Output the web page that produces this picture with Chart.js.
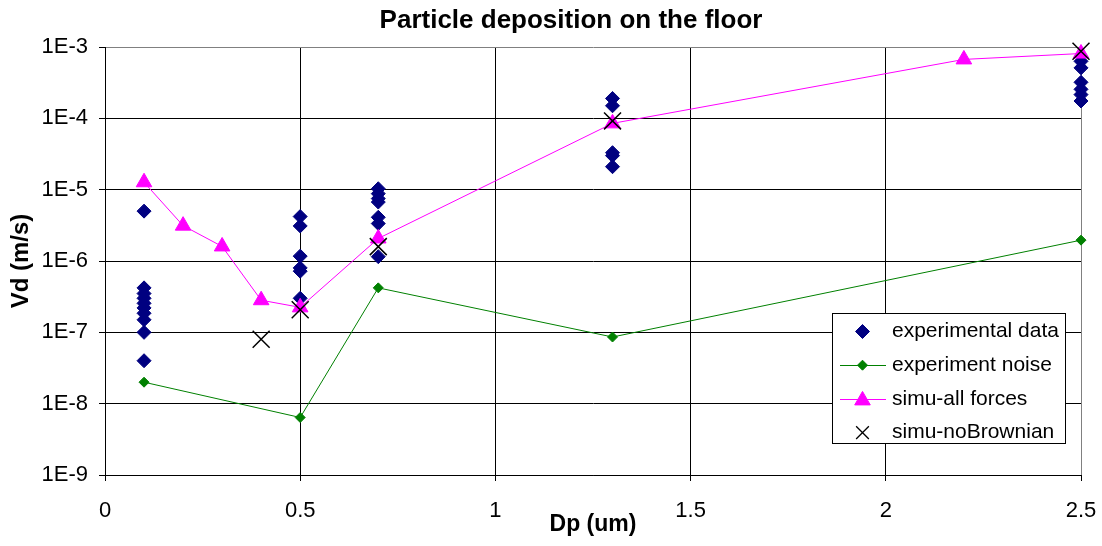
<!DOCTYPE html>
<html><head><meta charset="utf-8">
<script src="https://cdn.jsdelivr.net/npm/chart.js@4/dist/chart.umd.min.js"></script>
<style>html,body{margin:0;padding:0;background:#fff;overflow:hidden;} #wrap{width:1102px;height:546px;position:relative;}</style>
</head><body><div id="wrap"><canvas id="c" width="1102" height="546"></canvas></div>
<script>
const chartTitle = 'Particle deposition on the floor';
const xTitle = 'Dp (um)';
const yTitle = 'Vd (m/s)';
const seriesNames = ['experimental data', 'experiment noise', 'simu-all forces', 'simu-noBrownian'];
const xTicks = [0, 0.5, 1, 1.5, 2, 2.5];
const xTickLabels = ['0', '0.5', '1', '1.5', '2', '2.5'];
const yTicks = [1e-9, 1e-8, 1e-7, 1e-6, 1e-5, 1e-4, 1e-3];
const yTickLabels = ['1E-9', '1E-8', '1E-7', '1E-6', '1E-5', '1E-4', '1E-3'];

const expX = [0.1,0.1,0.1,0.1,0.1,0.1,0.1,0.1,0.1,0.1,
              0.5,0.5,0.5,0.5,0.5,0.5,
              0.7,0.7,0.7,0.7,0.7,0.7,0.7,
              1.3,1.3,1.3,1.3,1.3,
              2.5,2.5,2.5,2.5,2.5,2.5];
const expY = [5.0e-6,4.2e-7,3.5e-7,3.0e-7,2.55e-7,2.2e-7,1.85e-7,1.5e-7,1.0e-7,4.0e-8,
              4.2e-6,3.1e-6,1.17e-6,8.0e-7,7.2e-7,3.0e-7,
              1.03e-5,8.8e-6,7.5e-6,6.7e-6,4.1e-6,3.35e-6,1.15e-6,
              1.9e-4,1.5e-4,3.3e-5,3.0e-5,2.1e-5,
              6.3e-4,5.1e-4,3.2e-4,2.55e-4,2.15e-4,1.75e-4];

const noiseX = [0.1, 0.5, 0.7, 1.3, 2.5];
const noiseY = [2.0e-8, 6.4e-9, 4.2e-7, 8.6e-8, 1.96e-6];
const allX = [0.1, 0.2, 0.3, 0.4, 0.5, 0.7, 1.3, 2.2, 2.5];
const allY = [1.27e-5, 3.13e-6, 1.6e-6, 2.82e-7, 2.24e-7, 2.07e-6, 8.5e-5, 6.7e-4, 8.1e-4];
const noBrX = [0.4, 0.5, 0.7, 1.3, 2.5];
const noBrY = [8.0e-8, 2.07e-7, 1.59e-6, 9.2e-5, 8.7e-4];

const pairs = (xs, ys) => xs.map((x, i) => ({x: x, y: ys[i]}));
const FONT = "'Liberation Sans', Arial, sans-serif";
Chart.defaults.font.family = FONT;
Chart.defaults.color = '#000';

function drawMarker(ctx, style, x, y, r, fill, stroke, lw) {
  ctx.save();
  ctx.beginPath();
  ctx.fillStyle = fill; ctx.strokeStyle = stroke; ctx.lineWidth = lw;
  if (style === 'rectRot') {
    ctx.moveTo(x, y - r); ctx.lineTo(x + r, y); ctx.lineTo(x, y + r); ctx.lineTo(x - r, y); ctx.closePath();
    ctx.fill(); ctx.stroke();
  } else if (style === 'triangle') {
    ctx.moveTo(x, y - r); ctx.lineTo(x + 0.866 * r, y + 0.5 * r); ctx.lineTo(x - 0.866 * r, y + 0.5 * r); ctx.closePath();
    ctx.fill(); ctx.stroke();
  } else if (style === 'crossRot') {
    const d = r * Math.SQRT1_2;
    ctx.moveTo(x - d, y - d); ctx.lineTo(x + d, y + d);
    ctx.moveTo(x - d, y + d); ctx.lineTo(x + d, y - d);
    ctx.stroke();
  }
  ctx.restore();
}

const titlePlugin = {
  id: 'excelTitle',
  afterDraw(chart) {
    const ctx = chart.ctx;
    ctx.save();
    ctx.font = "bold 26px " + FONT;
    ctx.fillStyle = '#000';
    ctx.textAlign = 'center';
    ctx.textBaseline = 'middle';
    ctx.fillText(chartTitle, 571, 21);
    ctx.restore();
  }
};

const legendPlugin = {
  id: 'excelLegend',
  afterDraw(chart) {
    const ctx = chart.ctx;
    const L = 832, T = 313, W = 233, H = 130;
    ctx.save();
    ctx.fillStyle = '#fff';
    ctx.fillRect(L, T, W, H);
    ctx.strokeStyle = '#000';
    ctx.lineWidth = 1;
    ctx.strokeRect(L + 0.5, T + 0.5, W, H);
    ctx.font = "21px " + FONT;
    ctx.textBaseline = 'middle';
    ctx.textAlign = 'left';
    const mk = [
      {style: 'rectRot', r: 7, line: false},
      {style: 'rectRot', r: 5, line: true},
      {style: 'triangle', r: 9, line: true},
      {style: 'crossRot', r: 9, line: false}
    ];
    chart.data.datasets.forEach((ds, i) => {
      const cy = 331.5 + i * 33.7;
      const m = mk[i];
      if (m.line) {
        ctx.beginPath();
        ctx.strokeStyle = ds.borderColor;
        ctx.lineWidth = 1;
        ctx.moveTo(840, Math.round(cy) + 0.5); ctx.lineTo(886, Math.round(cy) + 0.5);
        ctx.stroke();
      }
      const pc = ds.pointBackgroundColor || ds.backgroundColor;
      const ps = ds.pointBorderColor || ds.borderColor;
      drawMarker(ctx, m.style, 862.5, cy + (m.style === 'triangle' ? 1.5 : 0), m.r, pc, ps, m.style === 'crossRot' ? 1.3 : 1);
      ctx.fillStyle = '#000';
      ctx.fillText(ds.label, 892, cy);
    });
    ctx.restore();
  }
};

new Chart(document.getElementById('c'), {
  type: 'scatter',
  data: {
    datasets: [
      {
        label: seriesNames[0], data: pairs(expX, expY), showLine: false,
        pointStyle: 'rectRot', pointRadius: 7, pointBackgroundColor: '#000080', pointBorderColor: '#000080',
        backgroundColor: '#000080', borderColor: '#000080', pointBorderWidth: 1, order: 4, clip: false
      },
      {
        label: seriesNames[1], data: pairs(noiseX, noiseY), showLine: true,
        borderColor: '#008000', borderWidth: 1, backgroundColor: '#008000',
        pointStyle: 'rectRot', pointRadius: 5, pointBackgroundColor: '#008000', pointBorderColor: '#008000',
        pointBorderWidth: 1, order: 3, clip: false
      },
      {
        label: seriesNames[2], data: pairs(allX, allY), showLine: true,
        borderColor: '#FF00FF', borderWidth: 1, backgroundColor: '#FF00FF',
        pointStyle: 'triangle', pointRadius: 9, pointBackgroundColor: '#FF00FF', pointBorderColor: '#FF00FF',
        pointBorderWidth: 1, order: 2, clip: false
      },
      {
        label: seriesNames[3], data: pairs(noBrX, noBrY), showLine: false,
        pointStyle: 'crossRot', pointRadius: 12, pointBorderColor: '#000000', borderColor: '#000000',
        backgroundColor: '#000000', pointBorderWidth: 1.5, order: 1, clip: false
      }
    ]
  },
  options: {
    responsive: false,
    animation: false,
    devicePixelRatio: 1,
    events: [],
    layout: {padding: {top: 47, right: 21, bottom: 0, left: 0}},
    plugins: {legend: {display: false}, title: {display: false}, tooltip: {enabled: false}},
    scales: {
      x: {
        type: 'linear', min: 0, max: 2.5,
        afterBuildTicks: (s) => { s.ticks = xTicks.map(v => ({value: v})); },
        afterFit: (s) => { s.height = 71; s.paddingLeft = 0; s.paddingRight = 0; },
        ticks: {
          autoSkip: false, maxRotation: 0, padding: 17, color: '#000',
          font: {size: 22},
          callback: (v, i) => xTickLabels[i]
        },
        grid: {
          color: (c) => (c.tick && c.tick.value === 2.5) ? '#808080' : '#000000',
          lineWidth: 1, drawTicks: true, tickLength: 6, tickColor: '#000000'
        },
        border: {color: '#000000', width: 1},
        title: {display: true, text: xTitle, color: '#000', font: {size: 23, weight: 'bold'}, padding: {top: 0, bottom: 8}}
      },
      y: {
        type: 'logarithmic', min: 1e-9, max: 1e-3,
        afterBuildTicks: (s) => { s.ticks = yTicks.map(v => ({value: v})); },
        afterFit: (s) => { s.width = 105; s.paddingTop = 0; s.paddingBottom = 0; },
        ticks: {
          autoSkip: false, padding: 11, color: '#000',
          font: {size: 22},
          callback: (v, i) => yTickLabels[i]
        },
        grid: {
          color: (c) => (c.tick && c.tick.value === 1e-3) ? '#808080' : '#000000',
          lineWidth: 1, drawTicks: true, tickLength: 6, tickColor: '#000000'
        },
        border: {color: '#000000', width: 1},
        title: {display: true, text: yTitle, color: '#000', font: {size: 24, weight: 'bold'}, padding: {top: 7, bottom: 0}}
      }
    }
  },
  plugins: [titlePlugin, legendPlugin]
});
</script>
</body></html>
